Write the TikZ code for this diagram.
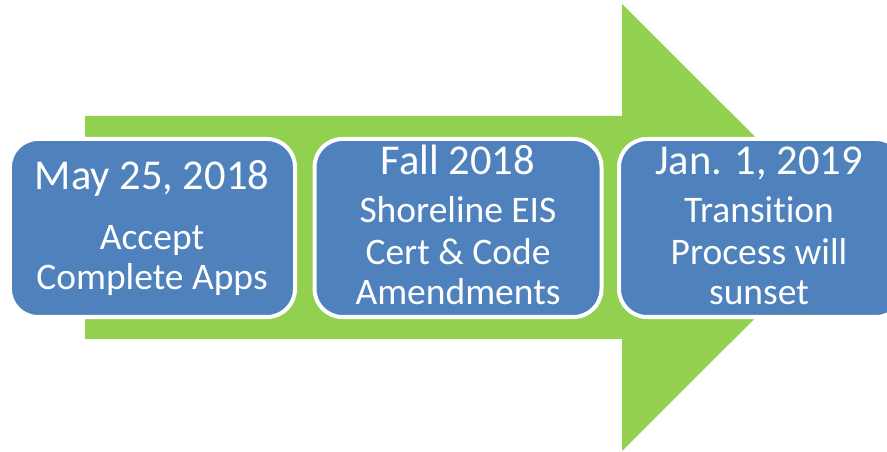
\documentclass[tikz,border=0pt]{standalone}
\usepackage{fontspec}
\setmainfont[Ligatures={NoCommon}]{Carlito}
\definecolor{arrowgreen}{HTML}{92D050}
\definecolor{boxblue}{HTML}{4F81BD}
\begin{document}
\begin{tikzpicture}[x=1bp,y=-1bp,
  stagebox/.style={draw=white,fill=boxblue,line width=4bp,rounded corners=28bp,minimum height=178bp,inner sep=0pt},
  titletext/.style={text=white,anchor=base,inner sep=0pt,font=\fontsize{42.5bp}{42.5bp}\selectfont},
  bodytext/.style={text=white,anchor=base,inner sep=0pt,font=\fontsize{37.5bp}{37.5bp}\selectfont}]
\useasboundingbox (0,0) rectangle (887,452);
\clip (0,0) rectangle (887,452);
\fill[arrowgreen] (85,116) -- (622,116) -- (622,4) -- (846,227.5) -- (622,451) -- (622,339) -- (85,339) -- cycle;
\node[stagebox,minimum width=285bp] (b1) at (152.5,228) {};
\node[stagebox,minimum width=287bp] (b2) at (458,228) {};
\node[stagebox,minimum width=285bp] (b3) at (761.5,228) {};
\node[titletext] (t1) at (152,190) {May 25, 2018};
\node[bodytext] (t1a) at (152,250) {Accept};
\node[bodytext] (t1b) at (152,290) {Complete Apps};
\node[titletext] (t2) at (458,175) {Fall 2018};
\node[bodytext] (t2a) at (458,223) {Shoreline EIS};
\node[bodytext] (t2b) at (458,265) {Cert \& Code};
\node[bodytext] (t2c) at (458,305) {Amendments};
\node[titletext] (t3) at (759,175) {Jan. 1, 2019};
\node[bodytext] (t3a) at (759,223) {Transition};
\node[bodytext] (t3b) at (759,265) {Process will};
\node[bodytext] (t3c) at (759,305) {sunset};
\end{tikzpicture}
\end{document}
